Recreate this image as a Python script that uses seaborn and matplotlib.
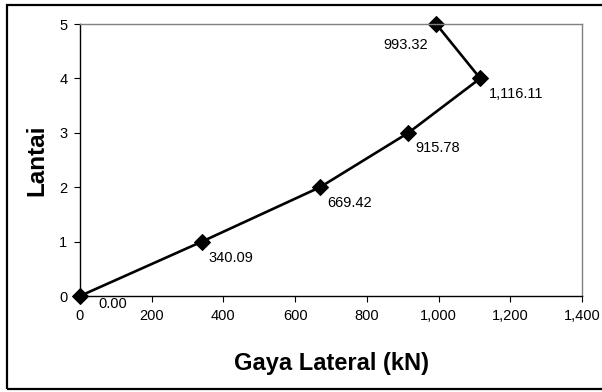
import matplotlib
matplotlib.use("Agg")
import matplotlib.pyplot as plt
import matplotlib.ticker as mticker
import seaborn as sns
import pandas as pd
from matplotlib.patches import Rectangle

# Story shear distribution
lantai = [0, 1, 2, 3, 4, 5]
gaya_lateral = [0.00, 340.09, 669.42, 915.78, 1116.11, 993.32]
x_ticks = [0, 200, 400, 600, 800, 1000, 1200, 1400]
y_ticks = [0, 1, 2, 3, 4, 5]

df = pd.DataFrame({"Gaya": gaya_lateral, "Lantai": lantai})

sns.set_theme(style="white")
plt.rcParams["font.family"] = ["Liberation Sans", "DejaVu Sans"]
plt.rcParams["text.color"] = "black"
plt.rcParams["axes.labelcolor"] = "black"
plt.rcParams["xtick.color"] = "black"
plt.rcParams["ytick.color"] = "black"

fig = plt.figure(figsize=(6.02, 3.92), dpi=100)
ax = fig.add_axes([80 / 602, 1 - 296 / 392, 502 / 602, 272 / 392])

sns.lineplot(data=df, x="Gaya", y="Lantai", sort=False, estimator=None,
             color="black", linewidth=1.9, marker="D", markersize=8,
             markeredgecolor="black", markerfacecolor="black", ax=ax,
             clip_on=False)

ax.set_xlim(0, 1400)
ax.set_ylim(0, 5)
ax.set_xticks(x_ticks)
ax.set_yticks(y_ticks)
ax.xaxis.set_major_formatter(mticker.FuncFormatter(lambda v, p: f"{v:,.0f}"))
ax.tick_params(axis="both", which="major", direction="out", length=4, width=0.8,
               color="black", labelsize=10.5, labelcolor="black", pad=5,
               bottom=True, left=True)

for side in ["left", "bottom"]:
    ax.spines[side].set_color("black")
    ax.spines[side].set_linewidth(1.0)
for side in ["top", "right"]:
    ax.spines[side].set_color("#808080")
    ax.spines[side].set_linewidth(1.0)

ax.set_xlabel("Gaya Lateral (kN)", fontsize=17, fontweight="bold", labelpad=21,
              color="black")
ax.set_ylabel("Lantai", fontsize=17.5, fontweight="bold", labelpad=8,
              color="black")

# value labels (offsets in points)
offsets = {0: (13, -6, "left"), 1: (5, -11.5, "left"), 2: (5.5, -11.5, "left"),
           3: (5, -11, "left"), 4: (6.5, -11, "left"), 5: (-6, -15, "right")}
for i, (x, y) in enumerate(zip(gaya_lateral, lantai)):
    dx, dy, ha = offsets[i]
    ax.annotate(f"{x:,.2f}", xy=(x, y), xytext=(dx, dy), textcoords="offset points",
                ha=ha, va="center", fontsize=10.5, color="black")

# outer chart border (right edge runs past the canvas)
fig.patches.append(Rectangle((7 / 602, 1 - 389 / 392), 610 / 602, 384 / 392,
                             transform=fig.transFigure, fill=False,
                             edgecolor="black", linewidth=1.6))

fig.savefig("out.png", dpi=100)
